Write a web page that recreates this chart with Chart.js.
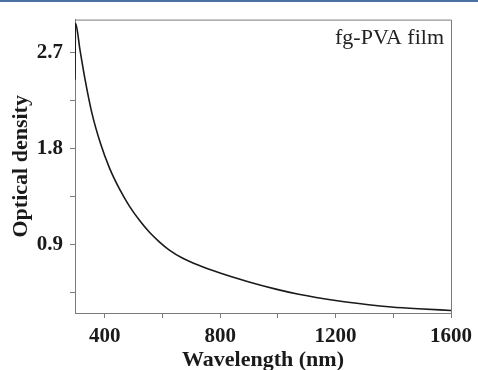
<!DOCTYPE html>
<html>
<head>
<meta charset="utf-8">
<script src="https://cdn.jsdelivr.net/npm/chart.js@4"></script>
<style>
  html, body { margin: 0; padding: 0; background: #fff; }
  #bar { position: absolute; left: 0; top: 0; width: 478px; height: 2px; background: #4a6fa3; }
</style>
</head>
<body>
<canvas id="myChart" width="478" height="370"></canvas>
<div id="bar"></div>
<script>
// values
const wavelengths = [297, 298, 299, 314, 331, 355, 386, 417, 452, 486, 521, 555, 590, 624, 669, 728, 797, 900, 993, 1072, 1200, 1314, 1393, 1486, 1600];
const density = [2.45, 2.85, 2.978, 2.733, 2.462, 2.141, 1.843, 1.615, 1.417, 1.258, 1.125, 1.015, 0.923, 0.848, 0.773, 0.702, 0.634, 0.548, 0.481, 0.433, 0.374, 0.335, 0.314, 0.297, 0.281];

const xTicks = [400, 600, 800, 1000, 1200, 1400, 1600];
const xLabels = [400, 800, 1200, 1600];
const yTicks = [0.45, 0.9, 1.35, 1.8, 2.25, 2.7];
const yLabels = [0.9, 1.8, 2.7];
const sampleName = 'fg-PVA film';

const serif = '"Liberation Serif", "Times New Roman", serif';

const boxAndLabel = {
  id: 'boxAndLabel',
  afterDraw(chart) {
    const { ctx, chartArea } = chart;
    ctx.save();
    ctx.strokeStyle = '#7a7a7a';
    ctx.lineWidth = 1;
    ctx.beginPath();
    ctx.moveTo(chartArea.left, chartArea.top + 0.5);
    ctx.lineTo(chartArea.right + 0.5, chartArea.top + 0.5);
    ctx.lineTo(chartArea.right + 0.5, chartArea.bottom);
    ctx.stroke();
    ctx.fillStyle = '#222';
    ctx.font = '22px ' + serif;
    ctx.textAlign = 'right';
    ctx.textBaseline = 'alphabetic';
    ctx.fillText(sampleName, chartArea.right - 7, chartArea.top + 24);
    ctx.restore();
  }
};

new Chart(document.getElementById('myChart'), {
  type: 'line',
  data: {
    datasets: [{
      label: sampleName,
      data: wavelengths.map((w, i) => ({ x: w, y: density[i] })),
      borderColor: '#1a1a1a',
      borderWidth: 1.6,
      pointRadius: 0,
      cubicInterpolationMode: 'monotone',
      fill: false
    }]
  },
  options: {
    responsive: false,
    animation: false,
    layout: { padding: { top: 13, right: 26, left: 0, bottom: 0 } },
    plugins: { legend: { display: false }, tooltip: { enabled: false } },
    scales: {
      x: {
        type: 'linear',
        min: 297,
        max: 1600,
        afterBuildTicks: (scale) => { scale.ticks = xTicks.map(v => ({ value: v })); },
        afterFit: (scale) => { scale.height = 57; },
        ticks: {
          padding: 6,
          color: '#1a1a1a',
          font: { family: serif, size: 21, weight: 'bold' },
          maxRotation: 0,
          autoSkip: false,
          callback: (v) => xLabels.includes(v) ? String(v) : ''
        },
        grid: { drawOnChartArea: false, drawTicks: true, tickLength: 5, tickColor: '#7a7a7a' },
        border: { color: '#7a7a7a', width: 1 },
        title: {
          display: true,
          text: 'Wavelength (nm)',
          color: '#1a1a1a',
          font: { family: serif, size: 22, weight: 'bold' },
          padding: { top: 0, bottom: -4 }
        }
      },
      y: {
        type: 'linear',
        min: 0.257,
        max: 3.012,
        afterBuildTicks: (scale) => { scale.ticks = yTicks.map(v => ({ value: v })); },
        afterFit: (scale) => { scale.width = 75; },
        ticks: {
          padding: 7,
          color: '#1a1a1a',
          font: { family: serif, size: 21, weight: 'bold' },
          autoSkip: false,
          callback: (v) => yLabels.includes(v) ? v.toFixed(1) : ''
        },
        grid: { drawOnChartArea: false, drawTicks: true, tickLength: 5, tickColor: '#7a7a7a' },
        border: { color: '#7a7a7a', width: 1 },
        title: {
          display: true,
          text: 'Optical density',
          color: '#1a1a1a',
          font: { family: serif, size: 22, weight: 'bold' },
          padding: { top: 8, bottom: 0 }
        }
      }
    }
  },
  plugins: [boxAndLabel]
});
</script>
</body>
</html>
